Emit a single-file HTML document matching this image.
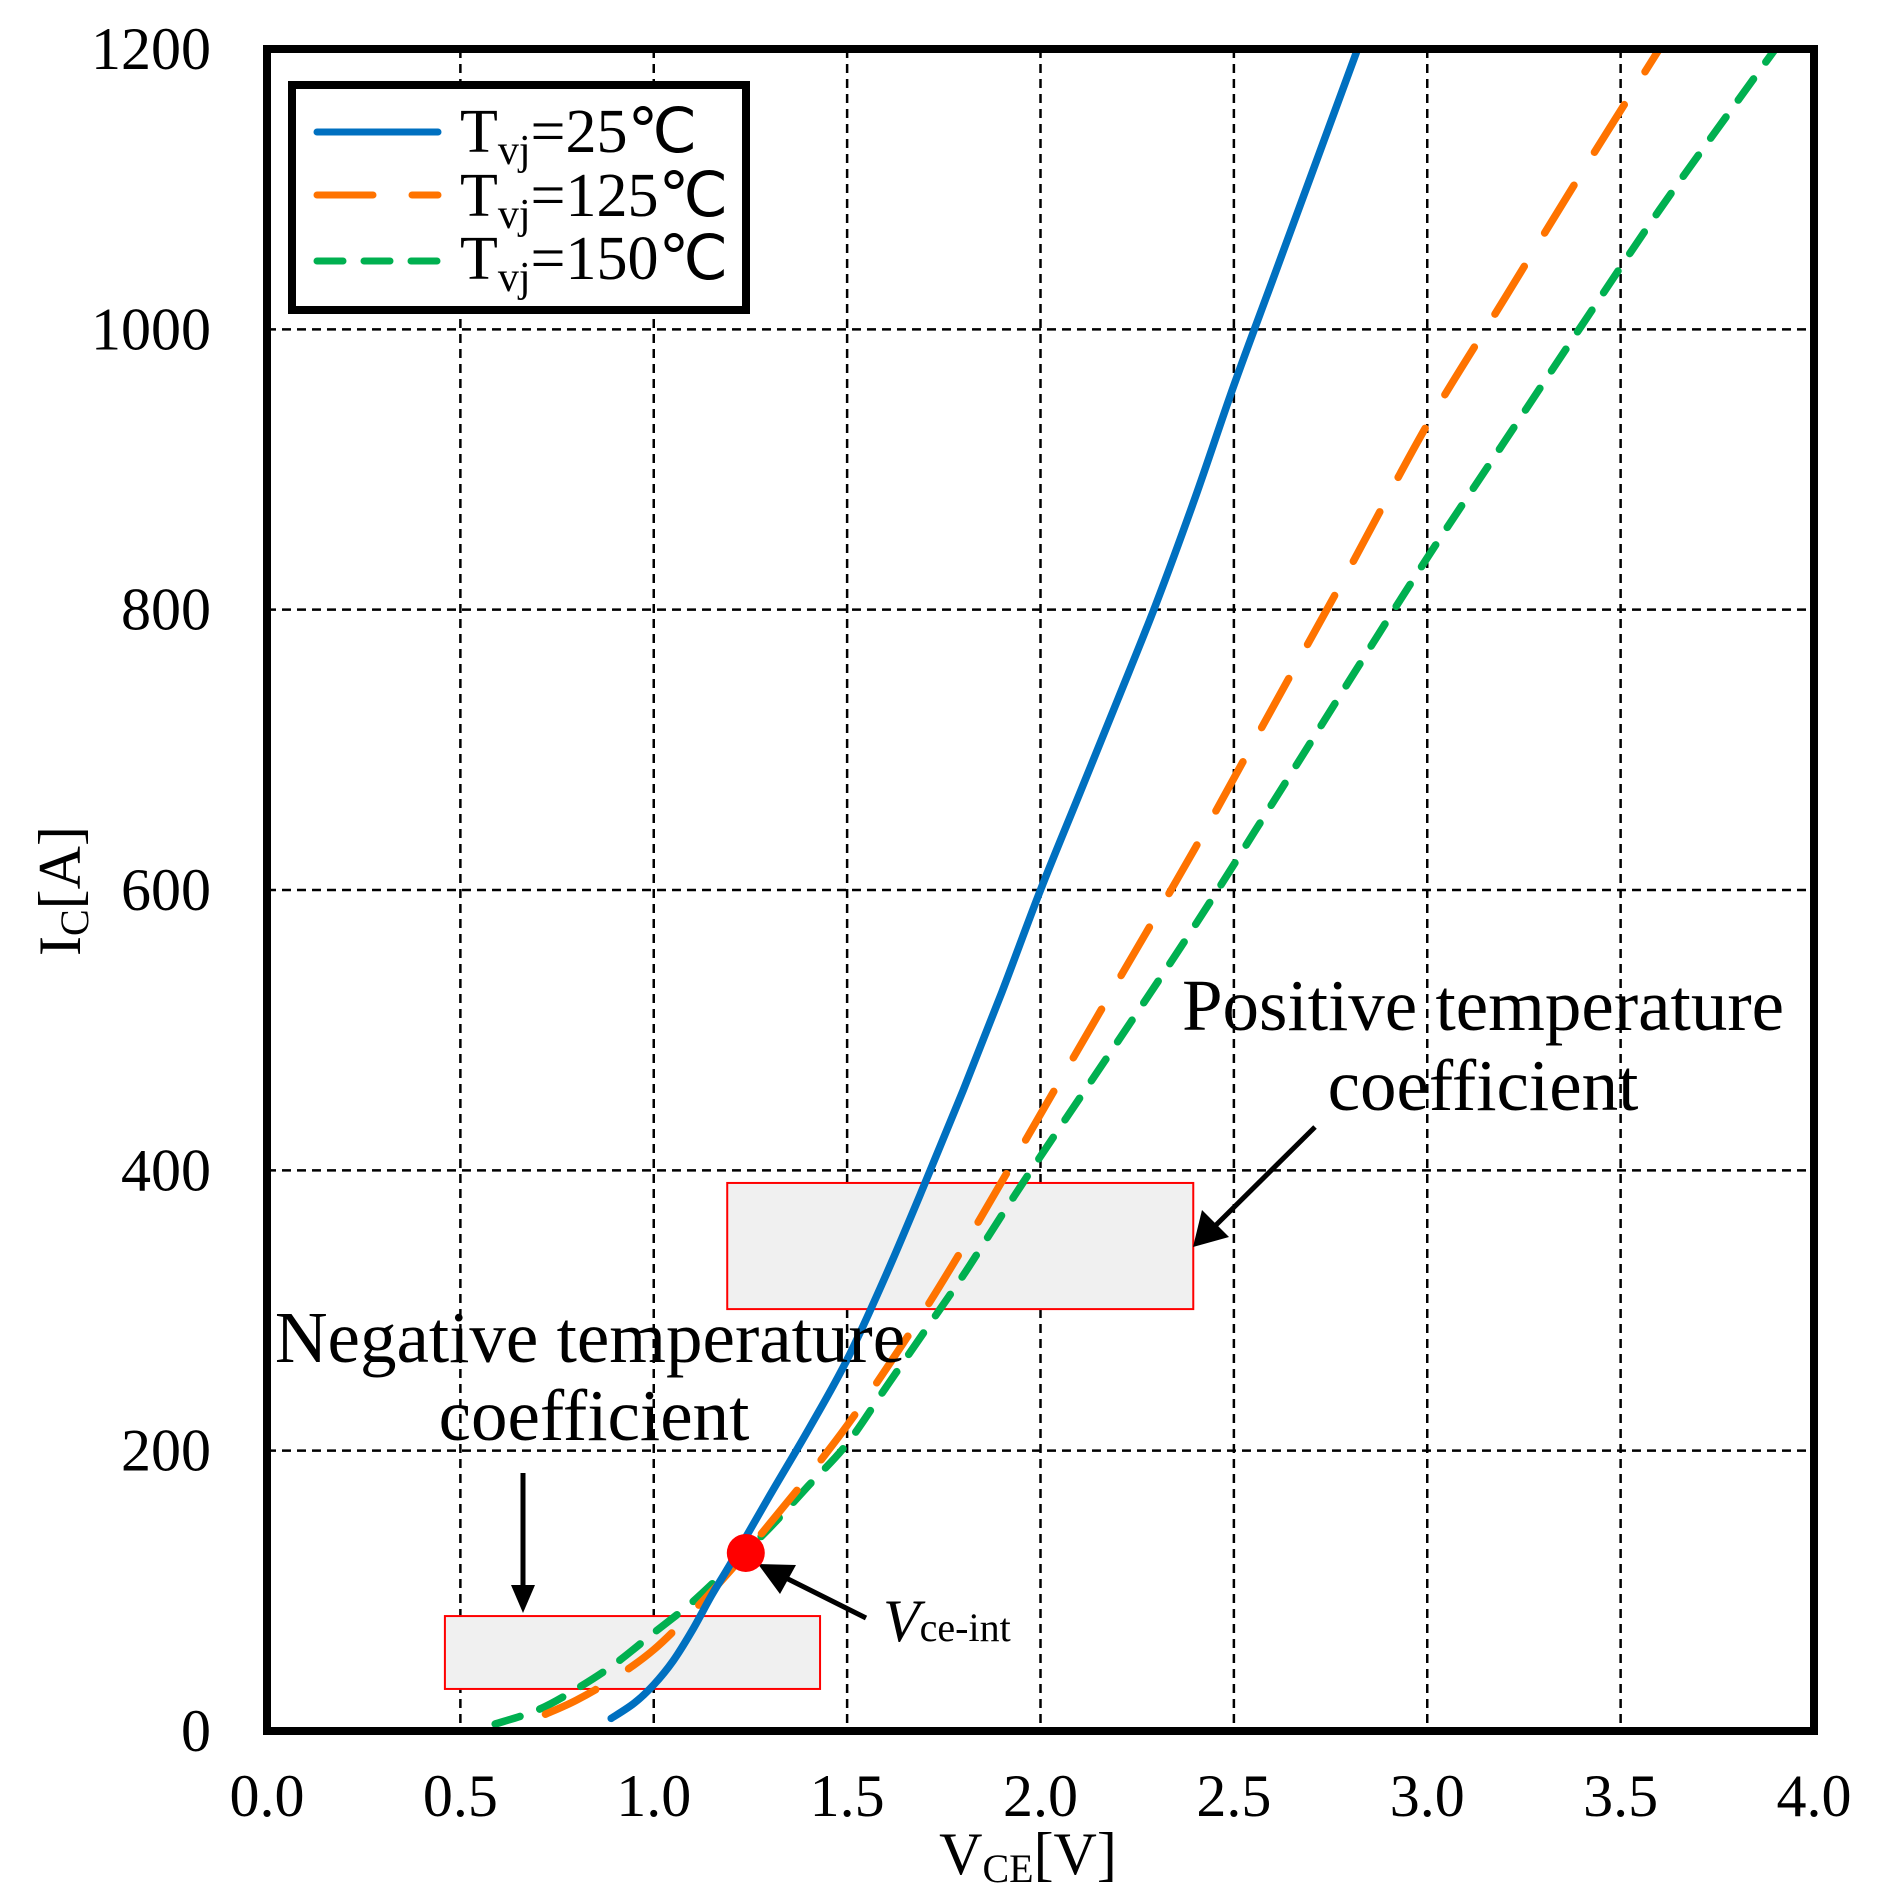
<!DOCTYPE html>
<html><head><meta charset="utf-8"><style>
html,body{margin:0;padding:0;background:#fff;}
svg{display:block;font-family:"Liberation Serif",serif;}
</style></head><body>
<svg id="chart" width="1877" height="1899" viewBox="0 0 1877 1899" xmlns="http://www.w3.org/2000/svg">
<g id="grid"></g>
<rect id="negBox" fill="#f0f0f0" stroke="#ff0000" stroke-width="2"/>
<rect id="posBox" fill="#f0f0f0" stroke="#ff0000" stroke-width="2"/>
<g id="series"></g>
<rect x="267" y="49" width="1547" height="1682" fill="none" stroke="#000" stroke-width="8"/>
<g id="ticks" font-size="60"></g>
<text transform="translate(80,891) rotate(-90)" text-anchor="middle" font-size="60">I<tspan font-size="40" dy="8">C</tspan><tspan dy="-8">[A]</tspan></text>
<text x="1028" y="1874" text-anchor="middle" font-size="60">V<tspan font-size="40" dy="8">CE</tspan><tspan dy="-8">[V]</tspan></text>
<g>
<rect x="292" y="85" width="454" height="225" fill="#fff" stroke="#000" stroke-width="8"/>
<line x1="317" y1="132" x2="438" y2="132" stroke="#0070c0" stroke-width="7" stroke-linecap="round"/>
<line x1="317" y1="195" x2="438" y2="195" stroke="#ff7300" stroke-width="7" stroke-linecap="round" stroke-dasharray="56 39"/>
<line x1="317" y1="261" x2="438" y2="261" stroke="#00b050" stroke-width="7" stroke-linecap="round" stroke-dasharray="26 21"/>
<text x="460" y="152" font-size="62">T<tspan font-size="42" dy="12">vj</tspan><tspan dy="-12">=25℃</tspan></text>
<text x="460" y="216" font-size="62">T<tspan font-size="42" dy="12">vj</tspan><tspan dy="-12">=125℃</tspan></text>
<text x="460" y="279" font-size="62">T<tspan font-size="42" dy="12">vj</tspan><tspan dy="-12">=150℃</tspan></text>
</g>
<g font-size="73">
<text x="1483" y="1030" text-anchor="middle">Positive temperature</text>
<text x="1483" y="1110" text-anchor="middle">coefficient</text>
<text x="590" y="1362" text-anchor="middle">Negative temperature</text>
<text x="594" y="1440" text-anchor="middle">coefficient</text>
<line x1="1315" y1="1127" x2="1212" y2="1229" stroke="#000" stroke-width="5"/>
<polygon points="1193,1247 1202,1210 1229,1237" fill="#000"/>
<line x1="523" y1="1473" x2="523" y2="1590" stroke="#000" stroke-width="5"/>
<polygon points="523,1613 511,1585 535,1585" fill="#000"/>
<line x1="866" y1="1618" x2="782" y2="1576" stroke="#000" stroke-width="5"/>
<polygon points="758,1564 796,1565 780,1594" fill="#000"/>
<circle id="dot" r="19" fill="#ff0000"/>
<text x="883" y="1641" font-size="60"><tspan font-style="italic">V</tspan><tspan font-size="40">ce-int</tspan></text>
</g>
</svg>
<script>
const xTicks = [0, 0.5, 1.0, 1.5, 2.0, 2.5, 3.0, 3.5, 4.0];
const xTickLabels = ["0.0","0.5","1.0","1.5","2.0","2.5","3.0","3.5","4.0"];
const yTicks = [0, 200, 400, 600, 800, 1000, 1200];
const yTickLabels = ["0","200","400","600","800","1000","1200"];
const v25 = [0.89,0.95,1.0,1.05,1.1,1.15,1.2,1.3,1.4,1.5,1.6,1.7,1.8,1.9,2.0,2.1,2.2,2.3,2.4,2.5,2.6,2.7,2.82];
const i25 = [9,20,33,50,72,97,120,168,215,265,325,390,457,527,600,668,736,805,880,960,1035,1110,1200];
const v125 = [0.72,0.8,0.9,1.0,1.1,1.2,1.3,1.4,1.5,1.6,1.7,1.8,1.9,2.0,2.2,2.4,2.6,2.8,3.0,3.2,3.4,3.6];
const i125 = [12,22,38,58,85,115,148,182,218,258,300,345,392,440,535,630,730,830,932,1022,1112,1200];
const v150 = [0.59,0.7,0.8,0.9,1.0,1.1,1.2,1.3,1.4,1.5,1.6,1.7,1.8,1.9,2.0,2.2,2.4,2.6,2.8,3.0,3.2,3.4,3.6,3.8,3.9];
const i150 = [5,15,30,48,70,92,118,145,175,205,245,285,325,368,410,492,575,662,750,837,920,1003,1085,1162,1200];
const intersection = [1.238, 127];
const posRegion = [1.19, 2.395, 301, 391];
const negRegion = [0.46, 1.43, 30, 82];

const X0=267, X1=1814, Y0=1731, Y1=49;
const sx = v => X0 + (v/4)*(X1-X0);
const sy = i => Y0 - (i/1200)*(Y0-Y1);
const NS="http://www.w3.org/2000/svg";
const grid=document.getElementById('grid'), ticks=document.getElementById('ticks'), series=document.getElementById('series');

xTicks.forEach((v,k)=>{
  if(k>0 && k<xTicks.length-1){
    const l=document.createElementNS(NS,'line');
    
    
    l.setAttribute('x1',sx(v));l.setAttribute('x2',sx(v));l.setAttribute('y1',Y1);l.setAttribute('y2',Y0);
    l.setAttribute('stroke','#000');l.setAttribute('stroke-width','2.5');l.setAttribute('stroke-dasharray','9 6');
    grid.appendChild(l);
  }
  const t=document.createElementNS(NS,'text');
  
  
  t.setAttribute('x',sx(v));t.setAttribute('y',1816);t.setAttribute('text-anchor','middle');
  t.textContent=xTickLabels[k];ticks.appendChild(t);
});
yTicks.forEach((v,k)=>{
  if(k>0 && k<yTicks.length-1){
    const l=document.createElementNS(NS,'line');
    
    
    l.setAttribute('x1',X0);l.setAttribute('x2',X1);l.setAttribute('y1',sy(v));l.setAttribute('y2',sy(v));
    l.setAttribute('stroke','#000');l.setAttribute('stroke-width','2.5');l.setAttribute('stroke-dasharray','9 6');
    grid.appendChild(l);
  }
  const t=document.createElementNS(NS,'text');
  
  
  t.setAttribute('x',211);t.setAttribute('y',sy(v)+20);t.setAttribute('text-anchor','end');
  t.textContent=yTickLabels[k];ticks.appendChild(t);
});

function setBox(id,r){
  const b=document.getElementById(id);
  b.setAttribute('x',sx(r[0]));b.setAttribute('width',sx(r[1])-sx(r[0]));
  b.setAttribute('y',sy(r[3]));b.setAttribute('height',sy(r[2])-sy(r[3]));
}
setBox('posBox',posRegion);setBox('negBox',negRegion);

function smoothPath(vs,is){
  const P=vs.map((v,k)=>[sx(v),sy(is[k])]);
  let d='M'+P[0][0]+','+P[0][1];
  for(let k=0;k<P.length-1;k++){
    const p0=P[Math.max(k-1,0)],p1=P[k],p2=P[k+1],p3=P[Math.min(k+2,P.length-1)];
    const c1=[p1[0]+(p2[0]-p0[0])/6,p1[1]+(p2[1]-p0[1])/6];
    const c2=[p2[0]-(p3[0]-p1[0])/6,p2[1]-(p3[1]-p1[1])/6];
    d+=' C'+c1[0]+','+c1[1]+' '+c2[0]+','+c2[1]+' '+p2[0]+','+p2[1];
  }
  return d;
}
function addSeries(vs,is,color,dash,name){
  const p=document.createElementNS(NS,'path');
  
  
  p.setAttribute('d',smoothPath(vs,is));
  p.setAttribute('fill','none');p.setAttribute('stroke',color);p.setAttribute('stroke-width','7.5');
  p.setAttribute('stroke-linecap','round');p.setAttribute('stroke-linejoin','round');
  if(dash)p.setAttribute('stroke-dasharray',dash);
  series.appendChild(p);
}
addSeries(v150,i150,'#00b050','26 21','series-150c');
addSeries(v125,i125,'#ff7300','56 39','series-125c');
addSeries(v25,i25,'#0070c0',null,'series-25c');
const dot=document.getElementById('dot');
dot.setAttribute('cx',sx(intersection[0]));dot.setAttribute('cy',sy(intersection[1]));
</script>
</body></html>
